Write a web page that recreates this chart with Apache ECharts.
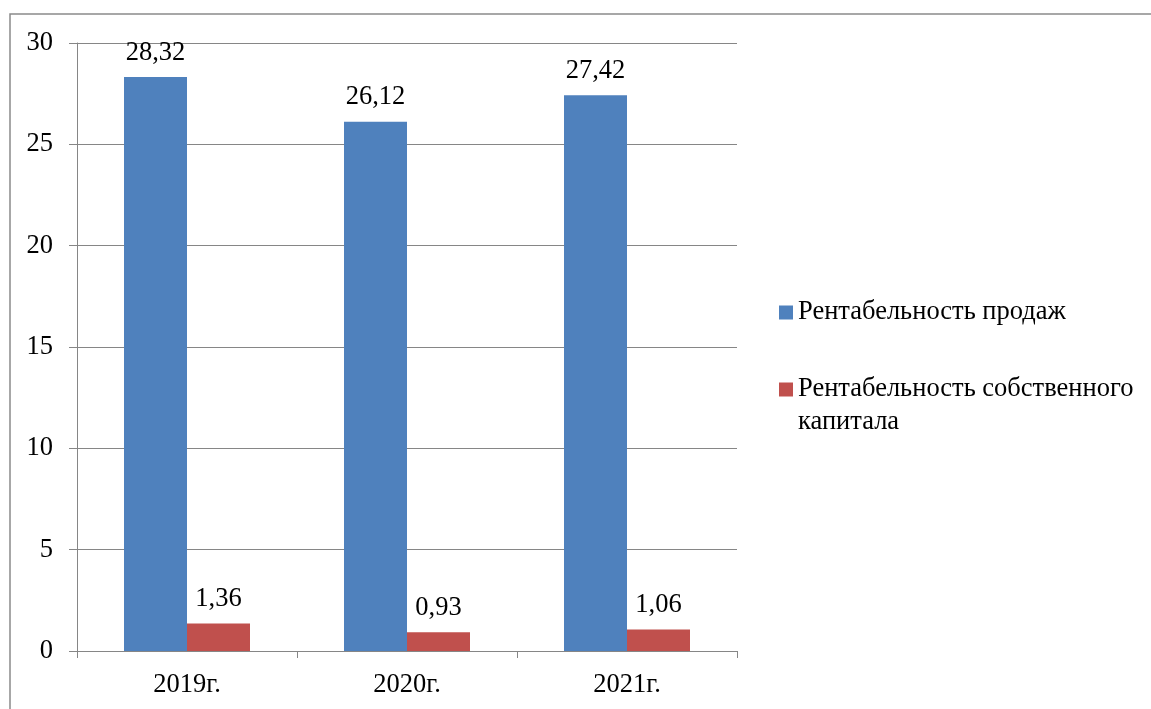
<!DOCTYPE html>
<html>
<head>
<meta charset="utf-8">
<script src="https://cdn.jsdelivr.net/npm/echarts@6/dist/echarts.min.js"></script>
<style>
html,body{margin:0;padding:0;background:#fff;}
#chart{width:1151px;height:709px;}
</style>
</head>
<body>
<div id="chart"></div>
<script>
var categories = ['2019г.', '2020г.', '2021г.'];
var salesProfitability = [28.32, 26.12, 27.42];
var equityProfitability = [1.36, 0.93, 1.06];
var seriesNames = ['Рентабельность продаж', 'Рентабельность собственного капитала'];
var yTicks = [0, 5, 10, 15, 20, 25, 30];

var FONT = '"Times New Roman", "Liberation Serif", "DejaVu Serif", serif';
var FS = 26.5;
var GRID_COLOR = '#868686';

var chart = echarts.init(document.getElementById('chart'));
function fmt(p) { return p.value.toFixed(2).replace('.', ','); }

chart.setOption({
  animation: false,
  textStyle: { fontFamily: FONT },
  graphic: [{
    type: 'rect',
    shape: { x: 10, y: 14, width: 1200, height: 800 },
    style: { fill: 'none', stroke: '#8a8a8a', lineWidth: 1.5 },
    silent: true
  }],
  grid: { left: 77, top: 43, right: 414, bottom: 58 },
  legend: {
    orient: 'vertical',
    left: 779,
    top: 296,
    padding: 0,
    itemWidth: 14,
    itemHeight: 14,
    itemGap: 11,
    icon: 'rect',
    data: seriesNames,
    formatter: function (name) {
      return name === seriesNames[1] ? ' \nРентабельность собственного\nкапитала' : name;
    },
    textStyle: { fontFamily: FONT, fontSize: FS, color: '#000', lineHeight: 33 }
  },
  xAxis: {
    type: 'category',
    data: categories,
    axisLine: { lineStyle: { color: GRID_COLOR, width: 1 } },
    axisTick: { show: true, length: 7, lineStyle: { color: GRID_COLOR } },
    axisLabel: { fontFamily: FONT, fontSize: FS, color: '#000', margin: 21 }
  },
  yAxis: {
    type: 'value',
    min: 0, max: 30, interval: 5,
    axisLine: { show: true, lineStyle: { color: GRID_COLOR, width: 1 } },
    axisTick: { show: true, length: 8, lineStyle: { color: GRID_COLOR } },
    splitLine: { show: true, lineStyle: { color: GRID_COLOR, width: 1 } },
    axisLabel: {
      fontFamily: FONT, fontSize: FS, color: '#000', margin: 24,
      formatter: function (v) { return yTicks.indexOf(v) >= 0 ? String(v) : ''; }
    }
  },
  series: [
    {
      name: seriesNames[0], type: 'bar', data: salesProfitability,
      barWidth: 63, barGap: '0%',
      itemStyle: { color: '#4F81BD' },
      label: { show: true, position: 'top', distance: 11, formatter: fmt, fontFamily: FONT, fontSize: FS, color: '#000' }
    },
    {
      name: seriesNames[1], type: 'bar', data: equityProfitability,
      barWidth: 63, barGap: '0%',
      itemStyle: { color: '#C0504D' },
      label: { show: true, position: 'top', distance: 11, formatter: fmt, fontFamily: FONT, fontSize: FS, color: '#000' }
    }
  ]
});
</script>
</body>
</html>
